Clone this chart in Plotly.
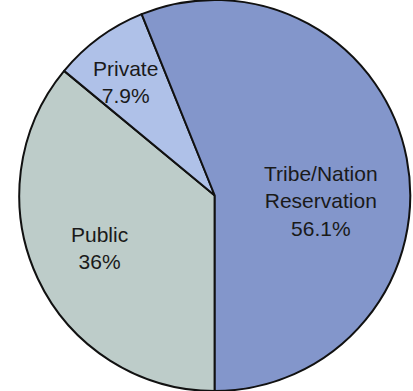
import plotly.graph_objects as go

# Land ownership shares
labels = ["Public", "Private", "Tribe/Nation<br>Reservation"]
values = [36.0, 7.9, 56.1]
colors = ["#bdccc9", "#afc1e8", "#8396cb"]

W, H = 413, 391

# Pixel centre of each slice's text block
label_centres = [(99, 248), (125, 82), (321, 201)]

fig = go.Figure(
    go.Pie(
        labels=labels,
        values=values,
        sort=False,
        direction="clockwise",
        rotation=180,
        marker=dict(colors=colors, line=dict(color="#111111", width=2)),
        textinfo="none",
        domain=dict(x=[0.045, 0.995], y=[0, 1]),
        showlegend=False,
        hoverinfo="skip",
    )
)

font = dict(family="Liberation Sans, Arial, sans-serif", size=21, color="#1a1a1a")

for name, v, (px, py) in zip(labels, values, label_centres):
    fig.add_annotation(
        x=px / W, y=1 - py / H, xref="paper", yref="paper",
        text=f"{name}<br>{v:g}%", showarrow=False, font=font,
        xanchor="center", yanchor="middle", align="center",
    )

fig.update_layout(
    width=W,
    height=H,
    margin=dict(l=0, r=0, t=0, b=0),
    paper_bgcolor="white",
    plot_bgcolor="white",
)

fig.write_html("out.html")
